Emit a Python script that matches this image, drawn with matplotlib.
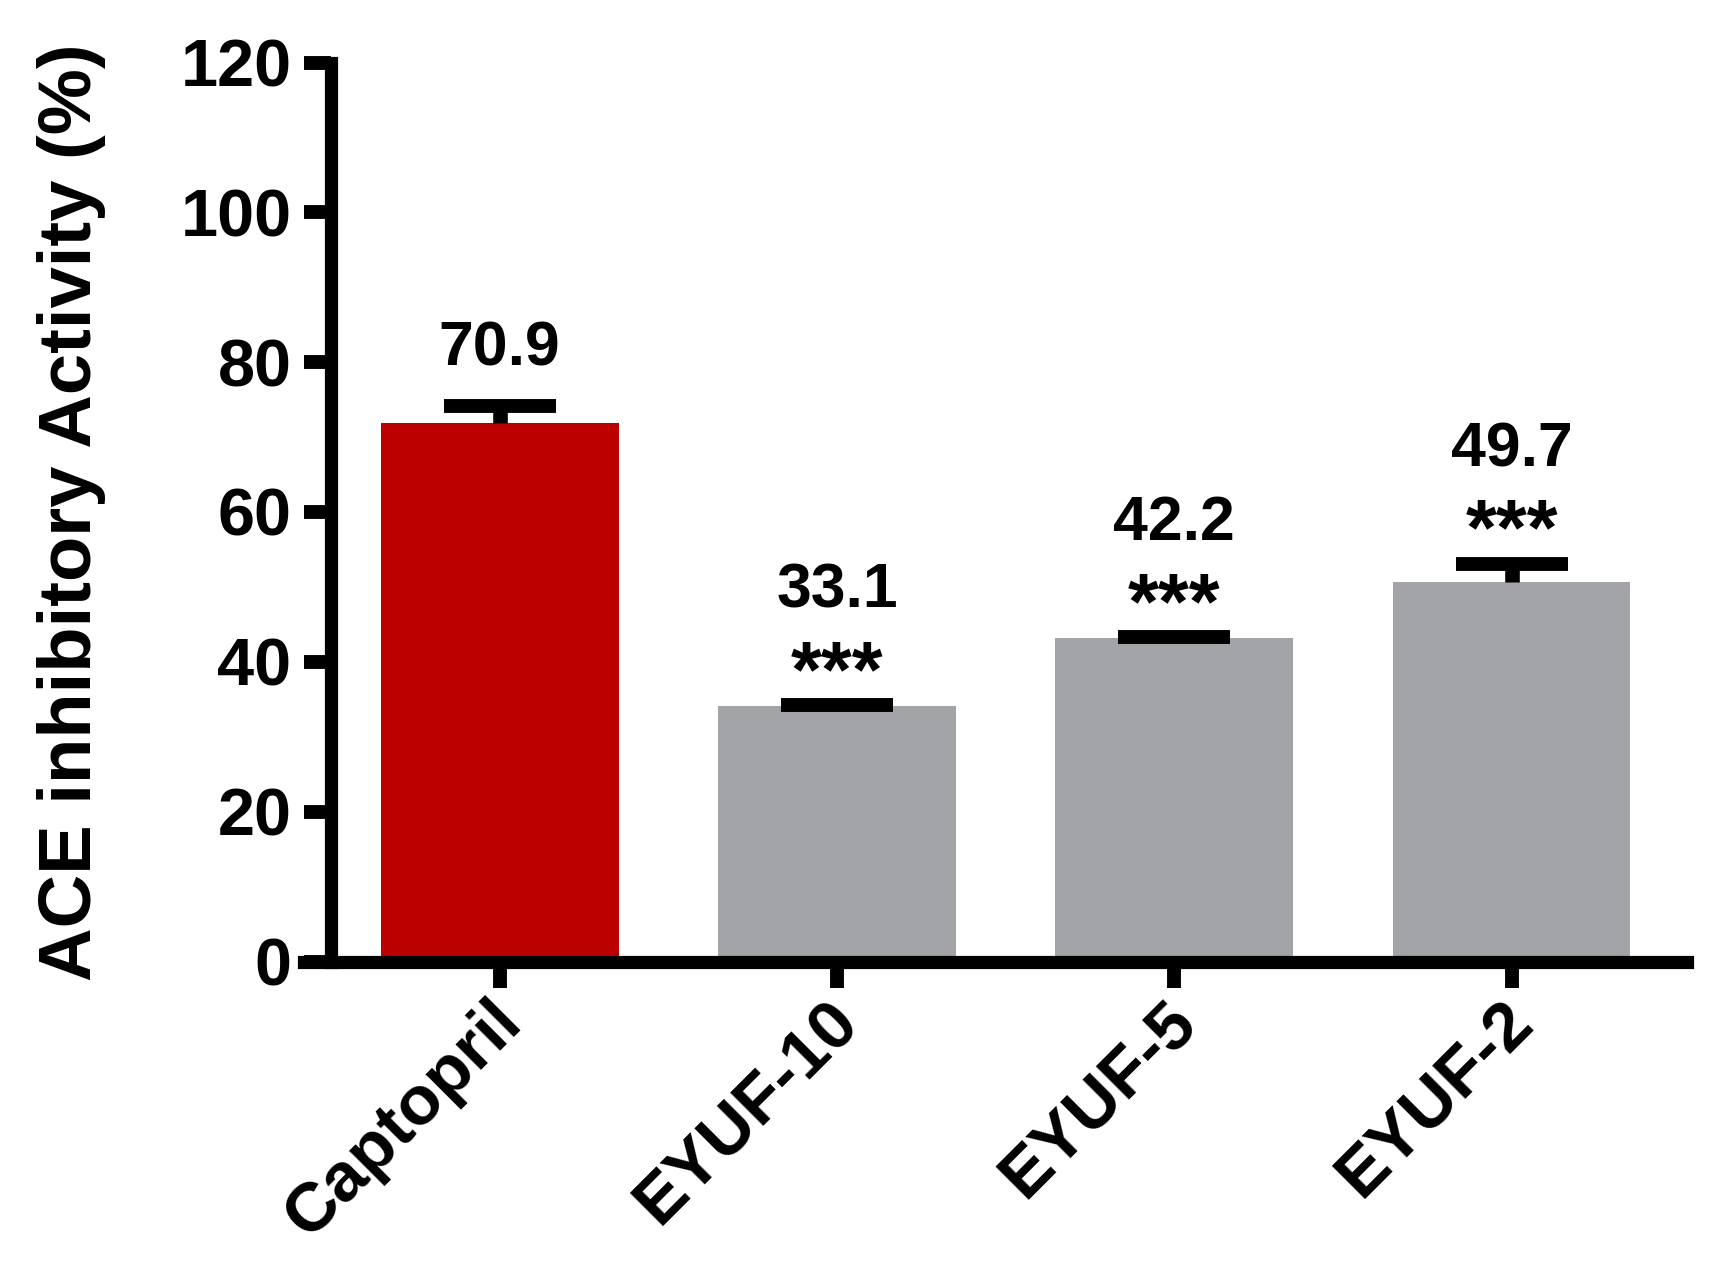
import matplotlib
matplotlib.use('Agg')
import matplotlib.pyplot as plt
import matplotlib.transforms as mtransforms
import numpy as np

# Dane
groups = ['Captopril', 'EYUF-10', 'EYUF-5', 'EYUF-2']
means = [71.9, 34.1, 43.2, 50.6]
errs = [2.3, 0.1, 0.1, 2.5]
value_labels = ['70.9', '33.1', '42.2', '49.7']
signif = ['', '***', '***', '***']
bar_colors = ['#BC0000', '#A3A4A8', '#A3A4A8', '#A3A4A8']

plt.rcParams['font.family'] = ['Liberation Sans', 'DejaVu Sans']
plt.rcParams['font.weight'] = 'bold'

fig = plt.figure(figsize=(17.13, 12.66), dpi=100)
ax = fig.add_axes([304 / 1713, 1 - 961.5 / 1266, (1687 - 304) / 1713, (961.5 - 62.5) / 1266])

x = np.arange(len(groups))
ax.bar(x, means, width=0.705, color=bar_colors, zorder=2)
eb = ax.errorbar(x, means, yerr=[np.zeros(len(errs)), errs], fmt='none', ecolor='black',
                 elinewidth=10.5, capsize=40.5, capthick=10, zorder=3)
# tylko górne "wąsy"
eb[1][0].set_visible(False)

for i in range(len(groups)):
    top = means[i] + errs[i]
    if signif[i]:
        ax.text(x[i], top + 1.2, signif[i], ha='center', va='baseline',
                fontsize=57, fontweight='bold')
        ax.text(x[i], top + 13.0, value_labels[i], ha='center', va='baseline',
                fontsize=45, fontweight='bold')
    else:
        ax.text(x[i], top + 5.4, value_labels[i], ha='center', va='baseline',
                fontsize=45, fontweight='bold')

ax.set_xlim(-0.58, 3.52)
ax.set_ylim(0, 120)
ax.set_yticks(np.arange(0, 121, 20))
ax.set_xticks(x)
ax.set_xticklabels(groups, rotation=45, ha='right', rotation_mode='anchor')

for s in ['top', 'right']:
    ax.spines[s].set_visible(False)
ax.spines['left'].set_position(('data', -0.5))
ax.spines['left'].set_linewidth(9.5)
ax.spines['bottom'].set_linewidth(9.5)
ax.spines['left'].set_capstyle('projecting')

ax.tick_params(axis='y', length=19.5, width=10, labelsize=48, pad=9)
ax.tick_params(axis='x', length=19, width=10, labelsize=50, pad=5)

# lekkie przesunięcie podpisów osi X w lewo i w górę
offset = mtransforms.ScaledTranslation(-8 / 72, 4 / 72, fig.dpi_scale_trans)
for lbl in ax.get_xticklabels():
    lbl.set_transform(lbl.get_transform() + offset)

ax.set_ylabel('ACE inhibitory Activity (%)', fontsize=53.5, fontweight='bold')
ax.yaxis.set_label_coords(-0.143, 0.5)

plt.savefig('out.png', dpi=100)
